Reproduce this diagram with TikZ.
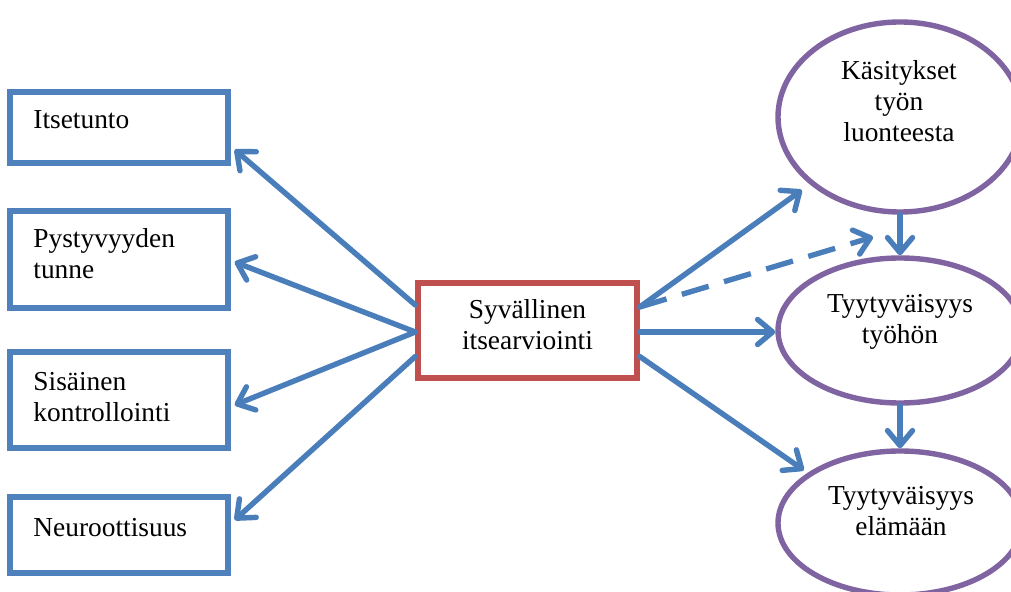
\documentclass[tikz,border=0pt]{standalone}
\usepackage{fontspec}
\setmainfont{Liberation Serif}
\usetikzlibrary{arrows.meta,shapes.geometric}
\definecolor{boxblue}{HTML}{4F81BD}
\definecolor{arrblue}{HTML}{4A7EBB}
\definecolor{boxred}{HTML}{C0504D}
\definecolor{ellpurple}{HTML}{8064A2}
\begin{document}
\begin{tikzpicture}[x=0.5pt,y=-0.5pt,
  leftbox/.style={draw=boxblue,line width=2.7pt,rectangle,minimum width=109pt,inner sep=0pt},
  midbox/.style={draw=boxred,line width=2.7pt,rectangle,minimum width=109.5pt,minimum height=47.5pt,inner sep=0pt},
  oval/.style={draw=ellpurple,line width=2.7pt,ellipse,minimum width=122pt,inner sep=0pt},
  txt/.style={inner sep=0pt,font=\fontsize{13.7}{15.5}\selectfont},
  arr/.style={draw=arrblue,line width=2.7pt,line cap=round,-{Straight Barb[length=7.5pt,width=12.5pt,round]}},
  dasharr/.style={arr,line cap=butt,dash pattern=on 14pt off 8pt}]
\useasboundingbox (0,0) rectangle (1011,592);
\clip (0,0) rectangle (1011,592);
\fill[white] (0,0) rectangle (1011,592);
% left boxes
\node[leftbox,minimum height=35.5pt] (b1) at (119,127.5) {};
\node[leftbox,minimum height=48.5pt] (b2) at (119,259.5) {};
\node[leftbox,minimum height=48pt] (b3) at (119,400) {};
\node[leftbox,minimum height=38pt] (b4) at (119,535) {};
\node[txt,anchor=base west,align=left] (t1) at (33,129) {Itsetunto};
\node[txt,anchor=base west,align=left] (t2) at (33,279) {Pystyvyyden\\tunne};
\node[txt,anchor=base west,align=left] (t3) at (33,422) {Sisäinen\\kontrollointi};
\node[txt,anchor=base west,align=left] (t4) at (33,536) {Neuroottisuus};
% centre box
\node[midbox] (c) at (527.5,330.5) {};
\node[txt,anchor=base,align=center] (tc) at (527.5,350) {Syvällinen\\itsearviointi};
% ellipses
\node[oval,minimum height=95pt] (e1) at (900,117) {};
\node[oval,minimum height=72.5pt] (e2) at (900,330.5) {};
\node[oval,minimum height=72pt] (e3) at (900,523) {};
\node[txt,anchor=base,align=center] (te1) at (899,142) {Käsitykset\\työn\\luonteesta};
\node[txt,anchor=base,align=center] (te2) at (900,344) {Tyytyväisyys\\työhön};
\node[txt,anchor=base,align=center] (te3) at (901,535) {Tyytyväisyys\\elämään};
% left arrows
\draw[arr] ([yshift=12.75pt]c.west) -- ([shift={(2pt,8pt)}]b1.south east);
\draw[arr] ([yshift=-0.75pt]c.west) -- ([shift={(2pt,-1.25pt)}]b2.east);
\draw[arr] ([yshift=-0.75pt]c.west) -- ([shift={(2pt,-2.5pt)}]b3.east);
\draw[arr] ([yshift=-13pt]c.west) -- ([shift={(2pt,7.5pt)}]b4.east);
% right arrows
\coordinate (d) at (873,237);
\draw[arr] ([yshift=11.75pt]c.east) -- ([shift={(-5pt,-2pt)}]e1.south west);
\draw[dasharr] ([yshift=11.75pt]c.east) -- (d);
\draw[arr] ([yshift=-0.75pt]c.east) -- ([yshift=-0.75pt]c.east -| e2.west);
\draw[arr] ([yshift=-13pt]c.east) -- ([xshift=-4pt]e3.north west);
% vertical arrows
\draw[arr] (e1.south) -- (e2.north);
\draw[arr] (e2.south) -- (e3.north);
\end{tikzpicture}
\end{document}
